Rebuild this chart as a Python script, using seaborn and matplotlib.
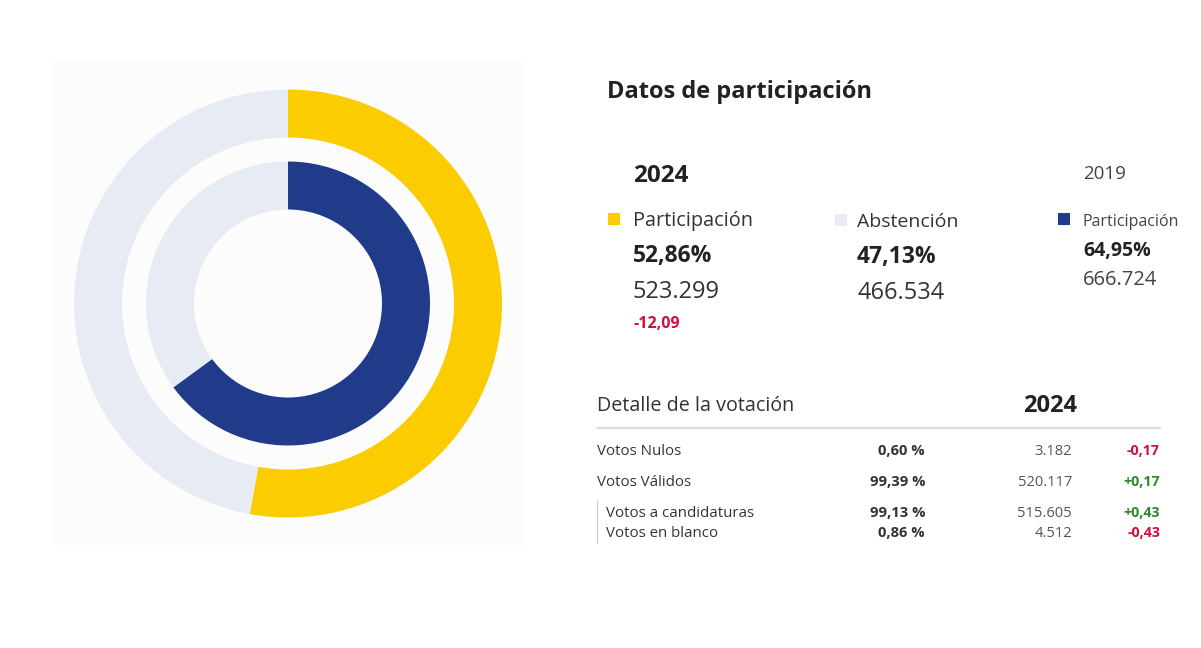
import matplotlib
matplotlib.use("Agg")
import matplotlib.pyplot as plt
import seaborn as sns
from matplotlib.patches import Rectangle

# data
ring_labels = ["Participación", "Abstención"]
share_2024 = [52.86, 47.13]
share_2019 = [64.95, 35.05]
votes_2024 = [523299, 466534]
votes_2019 = [666724]
diff_participation = -12.09

detail_labels = ["Votos Nulos", "Votos Válidos", "Votos a candidaturas", "Votos en blanco"]
detail_pct = [0.60, 99.39, 99.13, 0.86]
detail_votes = [3182, 520117, 515605, 4512]
detail_diff = [-0.17, 0.17, 0.43, -0.43]

YELLOW = "#fbcc00"
LIGHT = "#e6ebf4"
BLUE = "#213b8b"
RED = "#d0103a"
GREEN = "#2b8a2b"

W, H = 1201, 648

sns.set_theme(style="white")
plt.rcParams["font.family"] = ["Open Sans", "DejaVu Sans"]


def es_num(v, dec=2, sign=False):
    s = f"{v:+,.{dec}f}" if sign else f"{v:,.{dec}f}"
    return s.replace(",", "X").replace(".", ",").replace("X", ".")


def es_int(v):
    return f"{v:,}".replace(",", ".")


def px(x, y):
    return x / W, 1 - y / H


fig = plt.figure(figsize=(W / 100, H / 100), dpi=100)
fig.patch.set_facecolor("white")

# light panel behind the donut
panel = fig.add_axes([53 / W, 1 - 545 / H, 472 / W, 483 / H])
panel.set_facecolor("#fcfcfc")
panel.set_xticks([])
panel.set_yticks([])
for s in panel.spines.values():
    s.set_visible(False)

# donut axes: center (288, 303.5), outer radius 214 px
cx, cy, R = 288, 303.5, 214
ax = fig.add_axes([(cx - R) / W, (H - cy - R) / H, 2 * R / W, 2 * R / H])
ring_w = 48 / R
ax.pie(share_2024, radius=1, colors=[YELLOW, LIGHT], startangle=90, counterclock=False,
       wedgeprops=dict(width=ring_w, edgecolor="none"))
ax.pie(share_2019, radius=142 / R, colors=[BLUE, LIGHT], startangle=90, counterclock=False,
       wedgeprops=dict(width=ring_w, edgecolor="none"))
ax.set_xlim(-1, 1)
ax.set_ylim(-1, 1)
ax.set_aspect("equal")
ax.axis("off")


def t(x, y, s, size, weight="normal", color="#222222", ha="left"):
    fig.text(*px(x, y), s, fontsize=size, fontweight=weight, color=color, ha=ha, va="baseline")


def square(x, y, color):
    fig.patches.append(Rectangle(px(x, y + 12), 12 / W, 12 / H, transform=fig.transFigure,
                                 facecolor=color, edgecolor="none"))


t(607, 98, "Datos de participación", 17, "bold")

# 2024 block
t(633, 182, "2024", 17.5, "bold")
square(608, 213, YELLOW)
t(633, 226, ring_labels[0], 14.3, color="#333333")
t(633, 262, es_num(share_2024[0]) + "%", 16.5, "bold")
t(633, 298, es_int(votes_2024[0]), 17, color="#333333")
t(633, 328, es_num(diff_participation), 11.5, "bold", RED)

square(835, 214, LIGHT)
t(857, 227, ring_labels[1], 14, color="#333333")
t(857, 263, es_num(share_2024[1]) + "%", 16.5, "bold")
t(857, 299, es_int(votes_2024[1]), 17, color="#333333")

# 2019 block
t(1083, 179, "2019", 13.5, color="#444444")
square(1058, 213, BLUE)
t(1083, 226, ring_labels[0], 11.5, color="#444444")
t(1083, 256, es_num(share_2019[0]) + "%", 14, "bold")
t(1083, 285, es_int(votes_2019[0]), 14.5, color="#444444")

# detail table
t(597, 411, "Detalle de la votación", 14.2, color="#333333")
t(1050, 412, "2024", 17, "bold", ha="center")
fig.add_artist(plt.Line2D([597 / W, 1160 / W], [1 - 428 / H] * 2, color="#dcdce4", lw=1.6))
fig.add_artist(plt.Line2D([597 / W] * 2, [1 - 500 / H, 1 - 543 / H], color="#cccccc", lw=0.8))

row_y = [455, 485.5, 517, 537]
row_x = [597, 597, 606, 606]
for lab, pct, v, d, y, x in zip(detail_labels, detail_pct, detail_votes, detail_diff, row_y, row_x):
    t(x, y, lab, 10.8, color="#333333")
    t(925, y, es_num(pct) + " %", 10.6, "bold", "#333333", ha="right")
    t(1072, y, es_int(v), 10.5, color="#555555", ha="right")
    t(1160, y, es_num(d, sign=True), 10.3, "bold", RED if d < 0 else GREEN, ha="right")

fig.savefig("out.png", dpi=100)
